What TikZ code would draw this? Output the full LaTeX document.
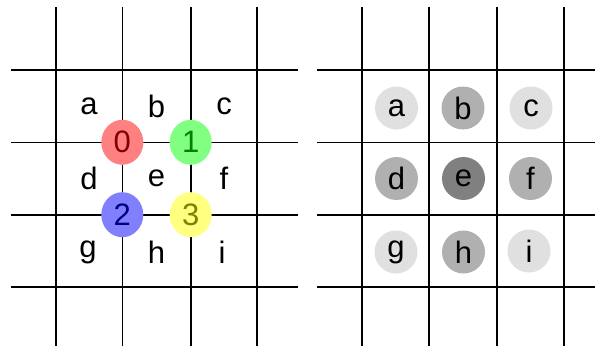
\documentclass[tikz,border=0pt]{standalone}
\usepackage{fontspec}
\setmainfont{Liberation Sans}
\usetikzlibrary{shapes.geometric}
\definecolor{cred}{RGB}{255,128,128}
\definecolor{cgreen}{RGB}{128,255,128}
\definecolor{cblue}{RGB}{128,128,255}
\definecolor{cyellow}{RGB}{255,255,128}
\definecolor{tred}{RGB}{128,0,0}
\definecolor{tgreen}{RGB}{0,128,0}
\definecolor{tblue}{RGB}{0,0,128}
\definecolor{tyellow}{RGB}{128,128,0}
\definecolor{glight}{RGB}{224,224,224}
\definecolor{gmid}{RGB}{176,176,176}
\definecolor{gdark}{RGB}{128,128,128}
\tikzset{
  gridline/.style={line width=1.6pt, black},
  lbl/.style={inner sep=0pt, font=\fontsize{31}{36}\selectfont, text=black},
  dot/.style={ellipse, inner sep=0pt, minimum width=42pt, minimum height=45pt, font=\fontsize{31}{36}\selectfont},
  shade/.style={circle, inner sep=0pt, minimum size=43pt, font=\fontsize{31}{36}\selectfont, text=black},
}
\begin{document}
\begin{tikzpicture}[x=1pt,y=-1pt]
\useasboundingbox (0,0) rectangle (595,348);
% left grid
\foreach \x in {56,122.3,190.7,256.7} \draw[gridline] (\x,7) -- (\x,346);
\foreach \y in {70,142.3,214.7,286.7} \draw[gridline] (11,\y) -- (298,\y);
% right grid
\foreach \x in {362,428.7,497,563.7} \draw[gridline] (\x,7) -- (\x,346);
\foreach \y in {70,142.3,214.7,286.7} \draw[gridline] (317,\y) -- (595,\y);
% left labels
\node[lbl] (la) at (89,106) {a};
\node[lbl] (lb) at (156.5,106) {b};
\node[lbl] (lc) at (224,106) {c};
\node[lbl] (ld) at (89,178.5) {d};
\node[lbl] (le) at (156.5,178.5) {e};
\node[lbl] (lf) at (224,178.5) {f};
\node[lbl] (lg) at (88,252) {g};
\node[lbl] (lh) at (156.5,252) {h};
\node[lbl] (li) at (222,252) {i};
% left coloured dots
\node[dot, fill=cred, text=tred] (p0) at (122.3,142.3) {0};
\node[dot, fill=cgreen, text=tgreen] (p1) at (190.7,142.3) {1};
\node[dot, fill=cblue, text=tblue] (p2) at (122.3,214.7) {2};
\node[dot, fill=cyellow, text=tyellow] (p3) at (190.7,214.7) {3};
% right shaded dots
\node[shade, fill=glight] (ra) at (396.5,108) {a};
\node[shade, fill=gmid] (rb) at (463,108) {b};
\node[shade, fill=glight] (rc) at (531,108) {c};
\node[shade, fill=gmid] (rd) at (396.5,178.5) {d};
\node[shade, fill=gdark] (re) at (463.5,178.5) {e};
\node[shade, fill=gmid] (rf) at (530.5,178.5) {f};
\node[shade, fill=glight] (rg) at (396,252) {g};
\node[shade, fill=gmid] (rh) at (463.5,252) {h};
\node[shade, fill=glight] (ri) at (529,251) {i};
\end{tikzpicture}
\end{document}
